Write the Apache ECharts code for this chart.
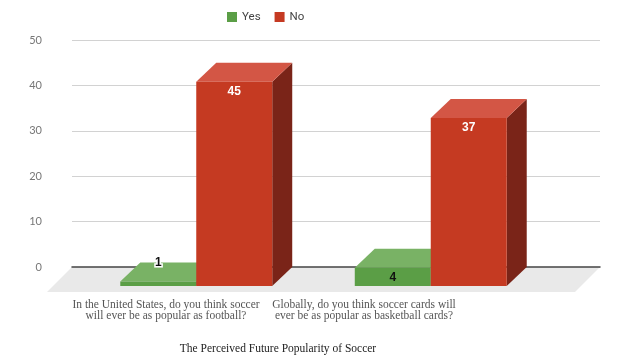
<!DOCTYPE html>
<html>
<head>
<meta charset="utf-8">
<script src="https://cdn.jsdelivr.net/npm/echarts@6/dist/echarts.min.js"></script>
<style>html,body{margin:0;padding:0;background:#fff}#c{width:620px;height:363px}</style>
</head>
<body>
<div id="c"></div>
<script>
var categories = [
  "In the United States, do you think soccer\nwill ever be as popular as football?",
  "Globally, do you think soccer cards will\never be as popular as basketball cards?"
];
var yesValues = [1, 4];
var noValues = [45, 37];
var yTicks = { min: 0, max: 50, interval: 10 };
var chartTitle = "The Perceived Future Popularity of Soccer";
var seriesNames = ["Yes", "No"];

var DX = 20, DY = 19;          // bar depth offset
var FLOOR = 25;                // floor depth
var BAR_RATIO = 0.324;

var COLORS = {
  Yes: { front: "#5b9e46", top: "#79b265", side: "#3f7530", label: "#111" },
  No:  { front: "#c53a22", top: "#d35645", side: "#7a2418", label: "#fff" }
};

function makeRender(side, col) {
  return function (params, api) {
    var cat = api.value(0), v = api.value(1);
    var top = api.coord([cat, v]);
    var base = api.coord([cat, 0]);
    var band = api.size([1, 0])[0];
    var w = band * BAR_RATIO;
    var x0 = side < 0 ? top[0] - w : top[0];
    var x1 = x0 + w;
    var y0 = top[1], y1 = base[1];
    var h = y1 - y0;
    var inside = h >= 14;
    var lx = (x0 + x1) / 2;
    var ly = inside ? y0 + 10 : y0 - DY;
    return {
      type: "group",
      children: [
        { type: "polygon", shape: { points: [[x1, y0], [x1 + DX, y0 - DY], [x1 + DX, y1 - DY], [x1, y1]] }, style: { fill: col.side } },
        { type: "polygon", shape: { points: [[x0, y0], [x0 + DX, y0 - DY], [x1 + DX, y0 - DY], [x1, y0]] }, style: { fill: col.top } },
        { type: "rect", shape: { x: x0, y: y0, width: w, height: h }, style: { fill: col.front } },
        { type: "text", z2: 10, style: {
            text: String(v), x: lx, y: ly, align: "center", verticalAlign: "middle",
            fill: inside ? col.label : "#111",
            stroke: inside ? null : "#fff", lineWidth: inside ? 0 : 3,
            font: "bold 12px 'Liberation Sans', Arial, sans-serif"
        } }
      ]
    };
  };
}

function floorRender(params, api) {
  var cs = params.coordSys;
  var yb = cs.y + cs.height;
  return {
    type: "polygon",
    shape: { points: [[cs.x, yb], [cs.x + cs.width, yb], [cs.x + cs.width - FLOOR, yb + FLOOR], [cs.x - FLOOR, yb + FLOOR]] },
    style: { fill: "#e9e9e9" }
  };
}

var chart = echarts.init(document.getElementById("c"), null, { renderer: "canvas" });
chart.setOption({
  animation: false,
  backgroundColor: "#fff",
  title: {
    text: chartTitle, left: 273, top: 338, textAlign: "center",
    textStyle: { fontFamily: "'Liberation Serif', serif", fontSize: 11.5, fontWeight: "normal", color: "#222" }
  },
  legend: {
    data: seriesNames, left: 222, top: 6, itemWidth: 10, itemHeight: 10, itemGap: 14, icon: "rect",
    textStyle: { fontFamily: "Roboto, 'Liberation Sans', sans-serif", fontSize: 11.5, color: "#444" }
  },
  grid: [
    { left: 72, right: 20, top: 40, bottom: 96 },
    { left: 79, right: 72, top: 59, bottom: 77 },
    { left: 67, right: 157, top: 250, bottom: 72 }
  ],
  xAxis: [
    { gridIndex: 0, type: "category", data: categories, z: 1,
      axisLine: { show: true, lineStyle: { color: "#444", width: 1.5 } },
      axisTick: { show: false }, axisLabel: { show: false } },
    { gridIndex: 1, type: "category", data: categories, show: false },
    { gridIndex: 2, type: "category", data: categories,
      axisLine: { show: false }, axisTick: { show: false },
      axisLabel: { interval: 0, margin: 8, lineHeight: 11, color: "#555",
        fontFamily: "'Liberation Serif', serif", fontSize: 11.5 } }
  ],
  yAxis: [
    { gridIndex: 0, type: "value", min: yTicks.min, max: yTicks.max, interval: yTicks.interval,
      axisLine: { show: false }, axisTick: { show: false },
      splitLine: { lineStyle: { color: "#d2d2d2", width: 1 } },
      axisLabel: { margin: 30, color: "#777", fontFamily: "Lato, 'Open Sans', sans-serif", fontSize: 11 } },
    { gridIndex: 1, type: "value", min: yTicks.min, max: yTicks.max, show: false },
    { gridIndex: 2, type: "value", show: false }
  ],
  series: [
    { type: "custom", xAxisIndex: 0, yAxisIndex: 0, z: 0, silent: true,
      renderItem: floorRender, data: [[0, 0]] },
    { name: "Yes", type: "custom", xAxisIndex: 1, yAxisIndex: 1, z: 2,
      itemStyle: { color: COLORS.Yes.front },
      renderItem: makeRender(-1, COLORS.Yes),
      data: yesValues.map(function (v, i) { return [i, v]; }) },
    { name: "No", type: "custom", xAxisIndex: 1, yAxisIndex: 1, z: 3,
      itemStyle: { color: COLORS.No.front },
      renderItem: makeRender(1, COLORS.No),
      data: noValues.map(function (v, i) { return [i, v]; }) }
  ]
});
</script>
</body>
</html>
